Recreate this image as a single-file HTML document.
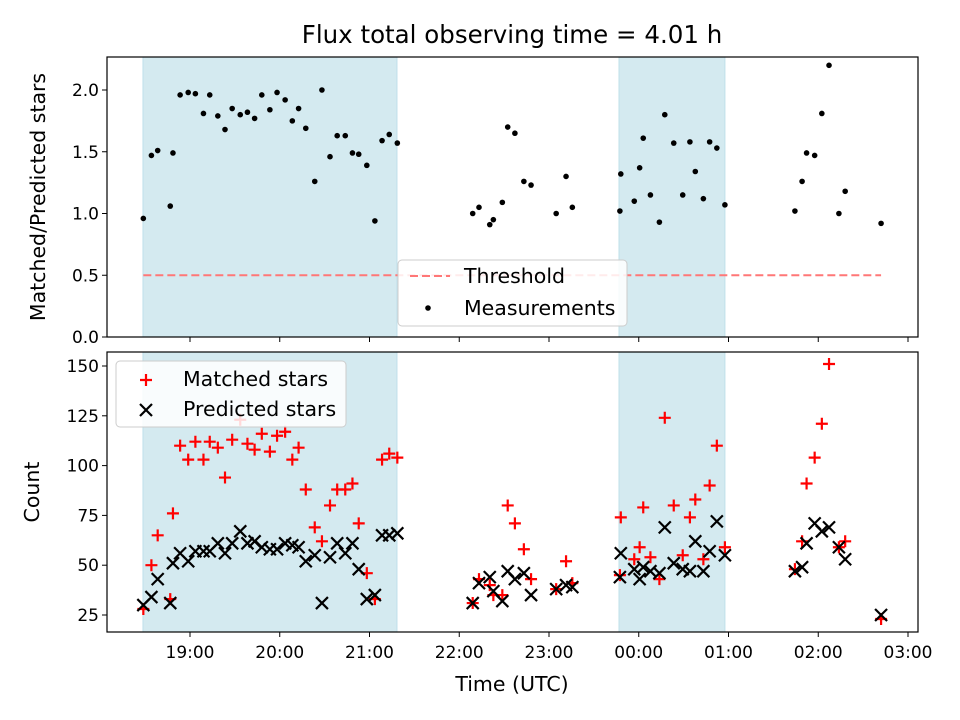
<!DOCTYPE html>
<html><head><meta charset="utf-8"><style>body{margin:0;background:#fff}svg{display:block;font-family:"DejaVu Sans","Liberation Sans",sans-serif}</style></head>
<body>
<svg id="c" width="960" height="720"></svg>
<script>
const times=[18.48,18.57,18.64,18.78,18.81,18.89,18.98,19.06,19.15,19.22,19.31,19.39,19.47,19.56,19.64,19.72,19.80,19.89,19.97,20.06,20.14,20.21,20.29,20.39,20.47,20.56,20.64,20.73,20.81,20.88,20.97,21.06,21.14,21.22,21.31,
22.15,22.22,22.34,22.38,22.48,22.54,22.62,22.72,22.80,23.08,23.19,23.26,
23.79,23.80,23.95,24.01,24.05,24.13,24.23,24.29,24.39,24.49,24.57,24.63,24.72,24.79,24.87,24.96,
25.74,25.82,25.87,25.96,26.04,26.12,26.23,26.30,26.70];
const ratios=[0.96,1.47,1.51,1.06,1.49,1.96,1.98,1.97,1.81,1.96,1.79,1.68,1.85,1.80,1.82,1.77,1.96,1.84,1.98,1.92,1.75,1.85,1.69,1.26,2.00,1.46,1.63,1.63,1.49,1.48,1.39,0.94,1.59,1.64,1.57,
1.00,1.05,0.91,0.95,1.09,1.70,1.65,1.26,1.23,1.00,1.30,1.05,
1.02,1.32,1.10,1.37,1.61,1.15,0.93,1.80,1.57,1.15,1.58,1.34,1.12,1.58,1.53,1.07,
1.02,1.26,1.49,1.47,1.81,2.20,1.00,1.18,0.92];
const predicted=[30,34,43,31,51,56,52,57,57,57,61,56,61,67,61,62,59,58,58,61,60,59,52,55,31,54,61,56,61,48,33,35,65,65,66,
31,41,44,37,32,47,43,46,35,38,40,39,
44,56,48,43,49,47,46,69,51,48,47,62,47,57,72,55,
47,49,61,71,67,69,59,53,25];
const matched=[28,50,65,33,76,110,103,112,103,112,109,94,113,123,111,108,116,107,115,117,103,109,88,69,62,80,88,88,91,71,46,33,103,106,104,
31,43,40,35,35,80,71,58,43,38,52,41,
45,74,53,59,79,54,43,124,80,55,74,83,53,90,110,59,
48,62,91,104,121,151,59,62,23];
const shadeSpans=[[18.476,21.306],[23.78,24.96]];
const threshold=0.5;
const topTicks=[0,0.5,1.0,1.5,2.0];
const botTicks=[25,50,75,100,125,150];
const xTickHours=[19,20,21,22,23,24,25,26,27];
const xTickLabels=["19:00","20:00","21:00","22:00","23:00","00:00","01:00","02:00","03:00"];

const L=107,R=918,T1=57,B1=337,T2=352,B2=632;
const X=h=>190+(h-19)*89.75;
const Y1=v=>337-v*123.5;
const Y2=v=>615-(v-25)*1.992;
const svg=document.getElementById('c');const NS='http://www.w3.org/2000/svg';
function el(t,a,p){const e=document.createElementNS(NS,t);for(const k in a)e.setAttribute(k,a[k]);(p||svg).appendChild(e);return e;}
function txt(s,a){const e=el('text',a);e.textContent=s;return e;}
let e;
e=txt('Flux total observing time = 4.01 h',{x:512,y:43,'font-size':24.5,'text-anchor':'middle'});

[[T1,B1],[T2,B2]].forEach(([t,b],pi)=>{shadeSpans.forEach(s=>{
 e=el('rect',{x:X(s[0]),y:t,width:X(s[1])-X(s[0]),height:b-t,fill:'#d4eaf0',stroke:'#bfe0ea','stroke-width':1});
 });});
e=el('line',{x1:X(times[0]),x2:X(times[times.length-1]),y1:Y1(threshold),y2:Y1(threshold),stroke:'#ff7777','stroke-width':2,'stroke-dasharray':'8,4'});

times.forEach((t,i)=>{e=el('circle',{cx:X(t),cy:Y1(ratios[i]),r:2.8,fill:'#000'});
 });
function plus(x,y,g){const s=6;el('path',{d:`M${x-s},${y}H${x+s}M${x},${y-s}V${y+s}`,stroke:'red','stroke-width':2.2},g);}
function cross(x,y,g){const s=6;el('path',{d:`M${x-s},${y-s}L${x+s},${y+s}M${x-s},${y+s}L${x+s},${y-s}`,stroke:'#000','stroke-width':2.2},g);}
times.forEach((t,i)=>{e=el('g',{});plus(X(t),Y2(matched[i]),e);});
times.forEach((t,i)=>{e=el('g',{});cross(X(t),Y2(predicted[i]),e);});
[[T1,B1,'top-axes'],[T2,B2,'bottom-axes']].forEach(([t,b,n])=>{e=el('rect',{x:L,y:t,width:R-L,height:b-t,fill:'none',stroke:'#000','stroke-width':1.2});
 
 xTickHours.forEach(h=>el('line',{x1:X(h),x2:X(h),y1:b,y2:b+5,stroke:'#000'}));});
topTicks.forEach(v=>{el('line',{x1:L-5,x2:L,y1:Y1(v),y2:Y1(v),stroke:'#000'});
 e=txt(v.toFixed(1),{x:L-8,y:Y1(v)+6,'font-size':17,'text-anchor':'end'});});
botTicks.forEach(v=>{el('line',{x1:L-5,x2:L,y1:Y2(v),y2:Y2(v),stroke:'#000'});
 e=txt(String(v),{x:L-8,y:Y2(v)+6,'font-size':17,'text-anchor':'end'});});
xTickHours.forEach((h,i)=>{e=txt(xTickLabels[i],{x:X(h),y:B2+26,'font-size':17,'text-anchor':'middle'});});
e=txt('Time (UTC)',{x:512,y:691,'font-size':20.5,'text-anchor':'middle'});
e=txt('Matched/Predicted stars',{x:0,y:0,'font-size':20.5,'text-anchor':'middle',transform:'translate(45,197) rotate(-90)'});
e=txt('Count',{x:0,y:0,'font-size':20.5,'text-anchor':'middle',transform:'translate(39,492) rotate(-90)'});
let g=el('g',{});
el('rect',{x:398,y:260,width:229,height:66,rx:4,fill:'#fff','fill-opacity':0.85,stroke:'#ccc'},g);
el('line',{x1:410,x2:450,y1:276,y2:276,stroke:'#ff7777','stroke-width':2,'stroke-dasharray':'8,4'},g);
el('circle',{cx:428,cy:308,r:2.8,fill:'#000'},g);
let t=el('text',{x:464,y:283,'font-size':20.5},g);t.textContent='Threshold';
t=el('text',{x:464,y:315,'font-size':20.5},g);t.textContent='Measurements';
g=el('g',{});
el('rect',{x:116,y:361,width:230,height:66,rx:4,fill:'#fff','fill-opacity':0.85,stroke:'#ccc'},g);
plus(146,380,g);cross(146,410,g);
t=el('text',{x:183,y:386,'font-size':20.5},g);t.textContent='Matched stars';
t=el('text',{x:183,y:416,'font-size':20.5},g);t.textContent='Predicted stars';
</script>
</body></html>
